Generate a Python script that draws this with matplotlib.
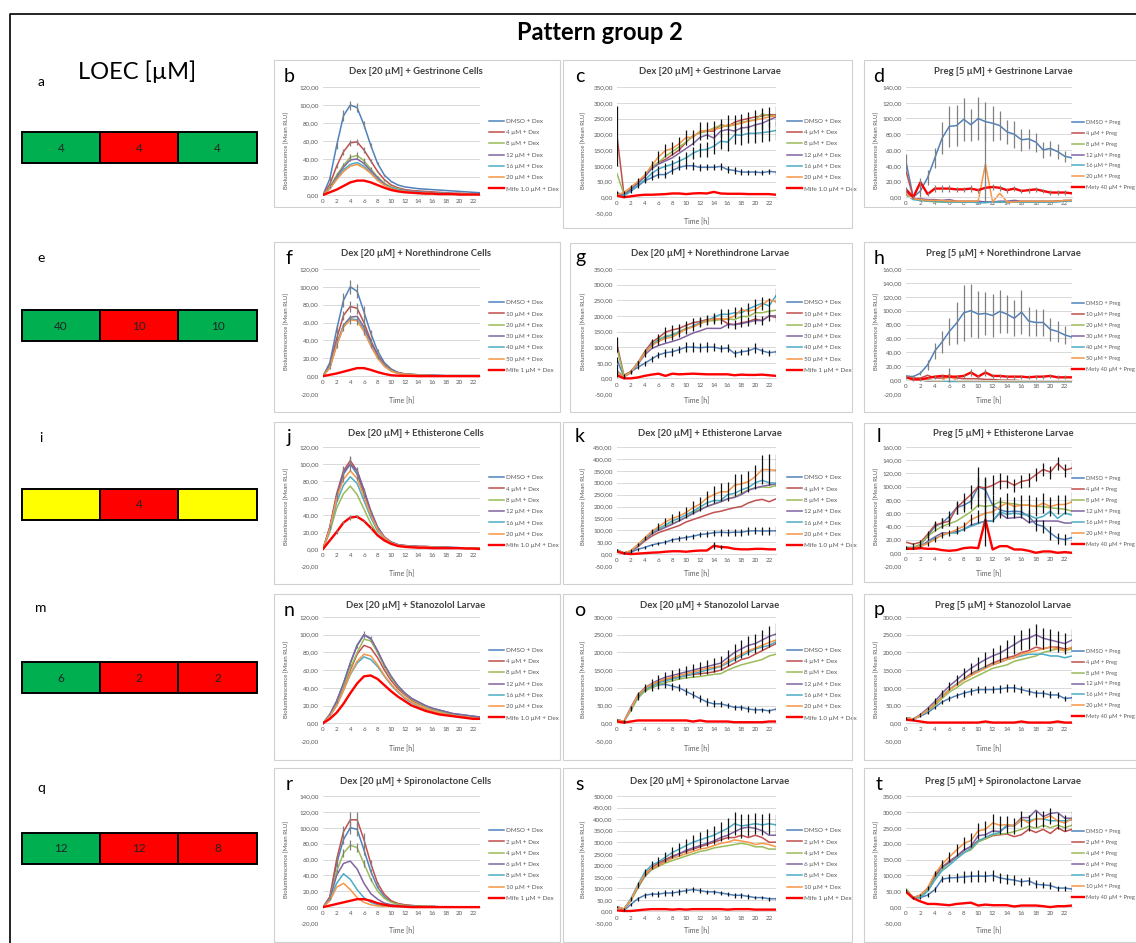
import matplotlib
matplotlib.use('Agg')
import matplotlib.pyplot as plt
from matplotlib.patches import Rectangle
import numpy as np

plt.rcParams['font.family'] = ['Lato', 'DejaVu Sans']

hours = list(range(24))

# ---------------- LOEC column
loec_a = ['4', '4', '4']
loec_e = ['40', '10', '10']
loec_i = ['', '4', '']
loec_m = ['6', '2', '2']
loec_q = ['12', '12', '8']
G, R, Y = '#00B050', '#FF0000', '#FFFF00'
loec_a_col = [G, R, G]
loec_e_col = [G, R, G]
loec_i_col = [Y, R, Y]
loec_m_col = [G, R, R]
loec_q_col = [G, R, R]

dex_4 = ['DMSO + Dex', '4 µM + Dex', '8 µM + Dex', '12 µM + Dex', '16 µM + Dex', '20 µM + Dex', 'Mife 1.0 µM + Dex']
preg_4 = ['DMSO + Preg', '4 µM + Preg', '8 µM + Preg', '12 µM + Preg', '16 µM + Preg', '20 µM + Preg', 'Mety 40 µM + Preg']
dex_10 = ['DMSO + Dex', '10 µM + Dex', '20 µM + Dex', '30 µM + Dex', '40 µM + Dex', '50 µM + Dex', 'Mife 1 µM + Dex']
preg_10 = ['DMSO + Preg', '10 µM + Preg', '20 µM + Preg', '30 µM + Preg', '40 µM + Preg', '50 µM + Preg', 'Mety 40 µM + Preg']
dex_2 = ['DMSO + Dex', '2 µM + Dex', '4 µM + Dex', '6 µM + Dex', '8 µM + Dex', '10 µM + Dex', 'Mife 1 µM + Dex']
preg_2 = ['DMSO + Preg', '2 µM + Preg', '4 µM + Preg', '6 µM + Preg', '8 µM + Preg', '10 µM + Preg', 'Mety 40 µM + Preg']

# ---------------- b
b_vals = [
    [0, 18, 55, 88, 100, 97, 78, 55, 35, 22, 15, 11, 9, 8, 7, 6.5, 6, 5.5, 5, 4.5, 4, 3.5, 3, 2.5],
    [0, 12, 32, 48, 58, 59, 50, 38, 26, 17, 11, 8, 6, 5, 4.5, 4, 3.5, 3, 2.5, 2, 2, 1.5, 1.5, 1],
    [0, 9, 22, 33, 42, 44, 38, 29, 20, 13, 9, 7, 5, 4, 3.5, 3, 2.5, 2, 2, 1.5, 1.5, 1, 1, 1],
    [0, 8, 20, 31, 39, 40, 35, 27, 19, 12, 8, 6, 5, 4, 3.5, 3, 2.5, 2, 2, 1.5, 1.5, 1, 1, 1],
    [0, 7, 18, 28, 34, 36, 32, 25, 17, 11, 8, 6, 4.5, 3.5, 3, 2.5, 2, 2, 1.5, 1.5, 1, 1, 1, 1],
    [0, 7, 17, 26, 32, 34, 30, 24, 16, 11, 7, 5, 4, 3, 2.5, 2, 2, 1.5, 1.5, 1, 1, 1, 0.5, 0.5],
    [0, 3, 6, 10, 14, 16, 16, 14, 11, 8, 5.5, 4, 3, 2.5, 2, 1.5, 1.5, 1, 1, 1, 0.5, 0.5, 0.5, 0.5],
]
b_errs = [[0, 2, 4, 6, 5, 5, 4, 3, 2, 1, 1] + [0] * 13,
          [0, 1, 2, 3, 3, 3, 3, 2, 1, 1] + [0] * 14,
          [0, 1, 2, 3, 4, 4, 3, 2, 1, 1] + [0] * 14, None, None, None, None]

# ---------------- c
c_vals = [
    [15, 5, 20, 35, 52, 62, 72, 72, 85, 95, 100, 100, 95, 95, 95, 98, 88, 85, 80, 80, 80, 78, 82, 80],
    [195, 10, 25, 45, 65, 95, 110, 120, 135, 150, 175, 195, 205, 210, 210, 230, 225, 238, 245, 250, 255, 258, 262, 262],
    [75, 10, 28, 48, 68, 95, 110, 130, 145, 160, 175, 195, 205, 210, 220, 228, 225, 230, 238, 242, 245, 265, 258, 260],
    [12, 8, 25, 45, 65, 90, 105, 115, 125, 140, 155, 170, 190, 198, 188, 210, 215, 210, 220, 222, 230, 235, 245, 255],
    [10, 5, 18, 38, 55, 75, 90, 98, 105, 115, 125, 140, 150, 152, 162, 178, 175, 198, 197, 203, 203, 205, 208, 212],
    [8, 15, 32, 50, 70, 100, 128, 148, 155, 170, 190, 190, 210, 212, 215, 220, 230, 230, 235, 242, 245, 250, 255, 258],
    [5, 0, 3, 6, 8, 8, 9, 10, 12, 12, 10, 12, 13, 12, 17, 12, 11, 11, 11, 10, 10, 10, 10, 8],
]
c_errs = [[5, 3, 5, 6, 8, 8, 10, 10, 10, 10, 10, 12, 12, 10, 10, 10, 10, 10, 10, 8, 8, 8, 8, 8],
          [95] + [0] * 23, None, None,
          [0, 0, 0, 0, 5, 8, 10, 12, 14, 16, 18, 20, 22, 24, 25, 26, 28, 28, 30, 30, 30, 30, 30, 30],
          [0, 5, 8, 10, 12, 15, 18, 20, 20, 22, 25, 25, 28, 28, 28, 30, 30, 30, 30, 30, 32, 32, 32, 32],
          None]

# ---------------- d
d_vals = [
    [45, 0, 8, 25, 50, 75, 90, 91, 99, 92, 100, 96, 94, 91, 83, 80, 73, 74, 70, 60, 62, 58, 52, 50],
    [33, 0, -3, -5, -5, -5, -6, -6, -6, -6, -6, -6, -6, -6, -6, -6, -6, -6, -6, -6, -6, -5, -5, -4],
    [5, -2, -4, -5, -6, -6, -6, -6, -6, -6, -6, -6, -6, -6, -6, -6, -6, -6, -6, -6, -6, -5, -5, -5],
    [8, -2, -2, -3, -3, -4, -3, -5, -5, -5, -5, -6, -6, -5, -5, -4, -5, -5, -5, -5, -5, -5, -4, -4],
    [3, -3, -4, -5, -5, -6, -6, -6, -6, -6, -7, -7, -6, -6, -6, -6, -6, -6, -6, -6, -6, -6, -5, -5],
    [4, -2, -3, -4, -4, -4, -5, -5, -5, -5, -5, 42, -6, 5, -6, -6, -5, -5, -5, -5, -5, -5, -4, -4],
    [10, 0, 19, 4, 11, 11, 11, 10, 10, 11, 9, 12, 13, 12, 9, 11, 8, 9, 10, 8, 6, 6, 6, 5],
]
d_errs = [[10, 2, 8, 10, 13, 20, 26, 26, 27, 20, 27, 25, 22, 18, 15, 17, 14, 13, 12, 10, 10, 10, 7, 9],
          None, None, None, None,
          [0] * 11 + [48] + [0] * 12,
          [3, 2, 6, 3, 4, 4, 4, 3, 3, 4, 3, 4, 4, 4, 3, 3, 3, 3, 3, 3, 3, 3, 3, 3]]

# ---------------- f
f_vals = [
    [0, 15, 52, 85, 100, 95, 72, 48, 28, 15, 8, 4, 2.5, 2, 1.5, 1, 1, 1, 0.5, 0.5, 0.5, 0.5, 0.5, 0.5],
    [0, 12, 42, 68, 78, 76, 60, 40, 24, 13, 7, 4, 2.5, 2, 1.5, 1, 1, 0.5, 0.5, 0.5, 0.5, 0.5, 0.5, 0.5],
    [0, 10, 35, 55, 64, 63, 52, 35, 21, 12, 6, 3.5, 2, 1.5, 1, 1, 0.5, 0.5, 0.5, 0.5, 0.5, 0.5, 0.5, 0.5],
    [0, 10, 36, 57, 66, 67, 55, 38, 22, 12, 6, 3.5, 2, 1.5, 1, 1, 0.5, 0.5, 0.5, 0.5, 0.5, 0.5, 0.5, 0.5],
    [0, 10, 35, 56, 64, 63, 52, 35, 21, 11, 6, 3, 2, 1.5, 1, 1, 0.5, 0.5, 0.5, 0.5, 0.5, 0.5, 0.5, 0.5],
    [0, 9, 34, 55, 63, 62, 50, 34, 20, 11, 5.5, 3, 2, 1.5, 1, 1, 0.5, 0.5, 0.5, 0.5, 0.5, 0.5, 0.5, 0.5],
    [0, 1.5, 3, 5, 7, 9, 9, 7, 4.5, 2.5, 1, 0.5, 0.3, 0.2, 0, 0, 0, 0, 0, 0, 0, 0, 0, 0],
]
f_errs = [[0, 2, 5, 8, 8, 8, 7, 4, 2, 1] + [0] * 14,
          [0, 1, 3, 5, 6, 6, 5, 3, 1] + [0] * 15, None, None, None,
          [0, 1, 3, 4, 5, 5, 4, 2, 1] + [0] * 15, None]

# ---------------- g
g_vals = [
    [60, 5, 22, 35, 48, 62, 75, 82, 85, 92, 100, 100, 98, 100, 100, 95, 97, 80, 85, 88, 97, 88, 82, 85],
    [108, 10, 22, 50, 85, 115, 130, 148, 155, 160, 170, 178, 182, 188, 190, 190, 175, 172, 178, 182, 190, 185, 200, 195],
    [95, 8, 20, 48, 82, 105, 125, 135, 140, 150, 160, 165, 175, 183, 185, 188, 190, 188, 198, 198, 210, 210, 215, 218],
    [20, 5, 18, 45, 75, 95, 105, 112, 118, 125, 135, 145, 152, 160, 160, 160, 172, 172, 175, 180, 185, 185, 200, 200],
    [25, 5, 20, 48, 80, 108, 122, 132, 138, 148, 158, 168, 178, 185, 195, 205, 205, 210, 210, 222, 232, 240, 232, 265],
    [22, 5, 20, 48, 80, 105, 118, 128, 132, 145, 158, 165, 175, 185, 190, 190, 190, 200, 220, 215, 220, 235, 252, 245],
    [10, 0, 0, 3, 8, 12, 15, 8, 15, 13, 14, 15, 14, 13, 13, 13, 13, 10, 12, 11, 11, 12, 10, 8],
]
g_errs = [[10, 3, 4, 5, 8, 10, 10, 12, 12, 12, 15, 15, 15, 15, 12, 12, 12, 10, 10, 12, 15, 10, 10, 10],
          [25, 3, 3, 5, 8, 10, 12, 15, 15, 15, 15, 15, 15, 15, 15, 15, 15, 15, 15, 15, 15, 15, 15, 15],
          None, None,
          [20, 3, 5, 8, 10, 12, 15, 15, 15, 15, 15, 15, 15, 15, 15, 18, 18, 18, 20, 20, 22, 22, 25, 25],
          None, None]

# ---------------- h
h_vals = [
    [6, 5, 10, 22, 42, 55, 70, 82, 97, 100, 95, 96, 93, 99, 95, 89, 98, 85, 83, 83, 73, 70, 65, 62],
    [5, 3, 3, 7, 3, 3, 4, 3, 2, 2, 2, 1, 1, 0, 0, 0, -1, -1, -1, -1, -1, -1, -1, -1],
    [5, 2, 0, -1, -1, -1, -1, -1, -1, -1, -1, -1, -2, -2, -2, -2, -2, -2, -2, -2, -2, -2, -2, -2],
    [5, 2, 0, -1, -1, -1, -1, -1, -1, -1, -1, -1, -1, -2, -2, -2, -2, -2, -2, -2, -2, -2, -2, -2],
    [5, 2, 1, 0, -1, -1, -2, -2, -2, -2, -2, -2, -2, -2, -2, -2, -2, -2, -2, -2, -2, -2, -2, -2],
    [5, 2, 1, 0, -1, -1, 8, -1, -1, -1, -1, -1, -1, -1, -1, -1, -1, -1, -1, -1, -1, -1, -1, -1],
    [4, 1, 1, 3, 5, 6, 5, 5, 6, 11, 5, 11, 6, 6, 5, 5, 5, 4, 5, 5, 6, 4, 4, 4],
]
h_errs = [[2, 2, 3, 7, 12, 16, 20, 30, 40, 38, 34, 31, 31, 31, 27, 26, 32, 21, 20, 19, 17, 15, 13, 12],
          None, None, None, None,
          [0] * 6 + [10] + [0] * 17,
          [2, 2, 2, 2, 3, 3, 3, 3, 3, 5, 3, 5, 3, 3, 3, 3, 3, 3, 3, 3, 3, 3, 3, 3]]

# ---------------- j
j_vals = [
    [0, 25, 62, 88, 100, 88, 65, 42, 24, 13, 8, 5, 4, 3.5, 3, 3, 2.5, 2.5, 2, 2, 1.5, 1.5, 1, 1],
    [0, 26, 65, 92, 104, 92, 68, 44, 25, 14, 8, 5, 4, 3.5, 3, 3, 2.5, 2, 2, 1.5, 1.5, 1, 0.5, 0],
    [0, 20, 48, 65, 74, 64, 47, 30, 17, 10, 6, 4, 3, 2.5, 2, 2, 2, 1.5, 1.5, 1, 1, 1, 1, 0.5],
    [0, 25, 62, 90, 100, 92, 70, 45, 26, 14, 8, 5, 4, 3.5, 3, 2.5, 2.5, 2, 2, 1.5, 1.5, 1, 1, 1],
    [0, 22, 55, 75, 85, 77, 57, 37, 21, 12, 7, 4.5, 3.5, 3, 2.5, 2.5, 2, 2, 1.5, 1.5, 1, 1, 1, 1],
    [0, 24, 60, 82, 92, 83, 62, 40, 23, 13, 7, 4.5, 3.5, 3, 2.5, 2.5, 2, 2, 1.5, 1.5, 1, 1, 1, 1],
    [0, 10, 20, 31, 37, 38, 33, 25, 16, 10, 6, 3.5, 2.5, 2, 1.5, 1.5, 1, 1, 1, 1, 1, 0.5, 0.5, 0],
]
j_errs = [[0, 2, 5, 9, 8, 7, 5, 3, 1] + [0] * 15,
          [0, 2, 4, 6, 6, 5, 4, 2, 1] + [0] * 15, None, None, None, None,
          [0, 1, 2, 2, 3, 2, 1, 1] + [0] * 16]

# ---------------- k
k_vals = [
    [18, 5, 8, 20, 28, 38, 45, 50, 60, 65, 70, 75, 82, 85, 90, 92, 90, 92, 92, 97, 98, 97, 97, 98],
    [15, 5, 10, 30, 55, 75, 90, 100, 110, 120, 135, 145, 155, 165, 175, 180, 188, 195, 200, 215, 225, 230, 220, 232],
    [15, 5, 12, 35, 60, 85, 102, 115, 130, 140, 155, 175, 188, 200, 210, 220, 232, 240, 255, 270, 278, 282, 280, 288],
    [15, 5, 12, 35, 60, 85, 100, 112, 125, 140, 155, 170, 185, 200, 210, 220, 232, 238, 250, 268, 278, 285, 290, 295],
    [15, 5, 12, 38, 65, 92, 108, 122, 140, 150, 165, 180, 198, 215, 225, 225, 250, 255, 270, 280, 300, 310, 300, 298],
    [15, 5, 15, 40, 68, 95, 115, 135, 150, 160, 175, 195, 210, 235, 250, 262, 262, 290, 295, 305, 325, 355, 355, 352],
    [10, 3, 0, 2, 4, 6, 7, 10, 12, 12, 10, 13, 15, 15, 35, 30, 28, 22, 20, 20, 22, 22, 20, 20],
]
k_errs = [[5, 2, 3, 5, 5, 6, 6, 8, 8, 10, 10, 10, 12, 12, 12, 15, 15, 15, 15, 15, 15, 18, 18, 20],
          None, None, None, None,
          [0, 3, 5, 8, 10, 12, 15, 18, 20, 22, 25, 28, 30, 32, 35, 38, 40, 45, 40, 45, 50, 60, 65, 70],
          [0] * 14 + [15, 8] + [0] * 8]

# ---------------- l
l_vals = [
    [8, 8, 12, 25, 40, 45, 55, 68, 72, 78, 100, 95, 72, 65, 62, 63, 62, 55, 43, 40, 30, 22, 20, 23],
    [16, 13, 16, 28, 42, 45, 48, 68, 78, 88, 100, 98, 102, 108, 108, 102, 108, 110, 118, 126, 122, 135, 125, 128],
    [8, 8, 13, 25, 33, 40, 44, 48, 55, 62, 72, 70, 72, 77, 75, 74, 72, 72, 70, 70, 68, 67, 66, 63],
    [7, 7, 10, 17, 24, 30, 30, 32, 35, 42, 45, 48, 48, 60, 52, 53, 54, 46, 48, 48, 48, 48, 45, 45],
    [6, 7, 9, 15, 22, 26, 30, 30, 36, 40, 44, 48, 48, 62, 58, 60, 58, 57, 52, 55, 63, 52, 60, 57],
    [7, 7, 10, 14, 20, 27, 30, 35, 40, 50, 55, 60, 62, 70, 75, 70, 72, 72, 70, 75, 70, 73, 73, 77],
    [6, 6, 7, 6, 6, 4, 3, 4, 7, 8, 7, 50, 5, 10, 10, 5, 5, 3, 0, 2, 2, 0, 1, 0],
]
l_errs = [[2, 2, 3, 5, 7, 8, 8, 9, 10, 12, 30, 20, 15, 12, 10, 10, 10, 10, 10, 10, 10, 8, 8, 8],
          [0, 2, 3, 5, 6, 7, 8, 10, 12, 14, 15, 15, 15, 12, 10, 10, 10, 10, 10, 10, 10, 10, 10, 10],
          None, None, None,
          [1, 1, 2, 3, 4, 5, 5, 6, 7, 8, 10, 12, 15, 15, 15, 15, 15, 15, 15, 15, 15, 15, 15, 15],
          [0] * 11 + [40] + [0] * 12]

# ---------------- n
n_vals = [
    [0, 10, 25, 45, 68, 88, 100, 95, 80, 65, 52, 42, 34, 28, 24, 20, 17, 15, 13, 11, 10, 9, 8, 7],
    [0, 9, 22, 40, 60, 78, 88, 85, 74, 60, 48, 39, 32, 26, 22, 19, 16, 14, 12, 10, 9, 8, 7, 6],
    [0, 10, 24, 42, 62, 80, 95, 93, 80, 64, 51, 41, 33, 27, 23, 19, 16, 14, 12, 10, 9, 8, 7, 6],
    [0, 10, 25, 45, 68, 88, 100, 96, 82, 66, 53, 42, 34, 28, 24, 20, 17, 15, 13, 11, 10, 9, 8, 7],
    [0, 8, 20, 37, 55, 68, 75, 72, 64, 53, 43, 35, 28, 23, 19, 16, 14, 12, 10, 9, 8, 7, 6, 5],
    [0, 8, 20, 37, 56, 70, 78, 76, 66, 54, 44, 36, 29, 24, 20, 17, 14, 12, 10, 9, 8, 7, 6, 5],
    [0, 5, 12, 22, 34, 45, 53, 54, 50, 43, 36, 30, 25, 20, 17, 14, 12, 10, 9, 8, 7, 6, 5, 5],
]
n_errs = [[0, 1, 2, 2, 3, 3, 4, 3, 2, 2, 1, 1] + [0] * 12, None, None, None, None, None, None]

# ---------------- o
o_vals = [
    [10, 5, 40, 75, 95, 100, 108, 110, 105, 100, 90, 80, 70, 60, 55, 55, 50, 45, 45, 40, 38, 38, 35, 40],
    [10, 5, 40, 75, 95, 105, 115, 122, 128, 130, 135, 138, 140, 142, 145, 150, 160, 170, 180, 185, 195, 205, 215, 225],
    [10, 5, 35, 70, 90, 100, 110, 115, 120, 125, 128, 130, 132, 135, 138, 140, 150, 158, 165, 170, 175, 180, 190, 195],
    [10, 5, 45, 80, 100, 112, 122, 130, 135, 140, 145, 150, 155, 160, 165, 170, 185, 200, 210, 220, 225, 235, 245, 252],
    [10, 5, 40, 75, 95, 105, 115, 120, 125, 130, 135, 140, 145, 150, 155, 160, 170, 180, 190, 200, 210, 215, 220, 230],
    [10, 5, 42, 78, 98, 110, 118, 125, 130, 135, 140, 145, 150, 155, 158, 162, 175, 185, 195, 205, 212, 220, 228, 235],
    [5, 2, 5, 8, 8, 8, 8, 8, 8, 8, 8, 5, 8, 5, 5, 5, 5, 3, 3, 3, 3, 3, 5, 5],
]
o_errs = [[2, 2, 5, 8, 8, 10, 10, 10, 10, 10, 10, 10, 10, 10, 10, 8, 8, 8, 8, 8, 8, 6, 6, 6],
          None, None,
          [0, 3, 5, 8, 10, 12, 14, 15, 15, 16, 16, 18, 18, 20, 20, 20, 22, 24, 25, 26, 28, 28, 30, 30],
          None, None, None]

# ---------------- p
p_vals = [
    [15, 12, 20, 30, 45, 60, 70, 78, 85, 90, 95, 95, 95, 97, 100, 100, 95, 90, 85, 85, 80, 80, 70, 72],
    [15, 12, 22, 38, 55, 75, 95, 110, 125, 140, 150, 160, 170, 178, 185, 190, 200, 205, 215, 210, 215, 215, 210, 212],
    [15, 12, 22, 35, 50, 70, 88, 100, 115, 125, 135, 145, 155, 160, 165, 175, 180, 185, 190, 200, 205, 210, 205, 210],
    [15, 12, 25, 42, 62, 85, 105, 122, 140, 155, 168, 180, 190, 198, 210, 222, 235, 240, 250, 240, 235, 230, 225, 235],
    [15, 12, 22, 38, 55, 78, 95, 110, 125, 135, 148, 158, 165, 172, 180, 185, 190, 195, 195, 195, 190, 190, 185, 190],
    [15, 12, 22, 38, 55, 75, 95, 108, 122, 135, 145, 155, 165, 172, 180, 185, 195, 200, 205, 210, 215, 210, 205, 215],
    [10, 8, 5, 2, 2, 2, 2, 2, 2, 2, 2, 5, 2, 2, 2, 2, 5, 2, 2, 2, 2, 5, 2, 2],
]
p_errs = [[2, 2, 3, 4, 5, 6, 8, 8, 10, 10, 10, 10, 10, 12, 12, 12, 10, 10, 10, 10, 10, 8, 8, 8],
          None, None,
          [0, 2, 3, 5, 8, 10, 12, 14, 15, 16, 18, 20, 22, 24, 25, 26, 28, 30, 30, 30, 30, 30, 30, 30],
          None, None, None]

# ---------------- r
r_vals = [
    [0, 12, 55, 85, 100, 98, 72, 45, 25, 13, 7, 4, 2.5, 2, 1.5, 1, 1, 0.5, 0.5, 0.5, 0, 0, 0, 0],
    [0, 13, 60, 95, 110, 110, 85, 55, 30, 16, 8, 4.5, 3, 2, 1.5, 1, 1, 0.5, 0.5, 0.5, 0, 0, 0, 0],
    [0, 10, 45, 68, 78, 75, 55, 35, 20, 11, 6, 3.5, 2, 1.5, 1, 1, 0.5, 0.5, 0, 0, 0, 0, 0, 0],
    [0, 10, 40, 55, 58, 48, 30, 17, 10, 5, 3, 2, 1, 1, 0.5, 0.5, 0, 0, 0, 0, 0, 0, 0, 0],
    [0, 9, 30, 42, 35, 22, 12, 6, 3, 1.5, 1, 0.5, 0, 0, 0, 0, 0, 0, 0, 0, 0, 0, 0, 0],
    [0, 8, 25, 30, 22, 12, 6, 3, 1.5, 1, 0.5, 0, 0, 0, 0, 0, 0, 0, 0, 0, 0, 0, 0, 0],
    [0, 2, 4, 6, 8, 10, 10, 8, 5, 3, 1.5, 1, 0.5, 0, 0, 0, 0, 0, 0, 0, 0, 0, 0, 0],
]
r_errs = [[0, 1, 4, 6, 8, 8, 6, 3, 1] + [0] * 15,
          [0, 1, 4, 7, 10, 10, 8, 5, 2] + [0] * 15,
          [0, 1, 3, 5, 6, 6, 4, 2] + [0] * 16, None, None, None, None]

# ---------------- s
s_vals = [
    [20, 5, 30, 55, 70, 75, 75, 80, 80, 85, 90, 95, 90, 85, 85, 80, 75, 70, 70, 65, 60, 60, 55, 55],
    [20, 10, 50, 110, 160, 190, 210, 225, 240, 250, 260, 270, 280, 290, 300, 310, 320, 320, 330, 320, 330, 320, 300, 300],
    [20, 10, 45, 100, 150, 180, 195, 210, 220, 230, 240, 250, 260, 265, 275, 280, 285, 290, 295, 290, 280, 280, 270, 270],
    [20, 10, 50, 105, 155, 185, 200, 220, 235, 250, 265, 275, 285, 295, 305, 320, 330, 345, 360, 365, 360, 350, 330, 330],
    [20, 10, 55, 115, 170, 200, 215, 235, 255, 270, 285, 300, 310, 320, 330, 345, 360, 380, 370, 375, 380, 375, 380, 375],
    [20, 10, 50, 108, 160, 185, 200, 215, 230, 240, 250, 260, 270, 275, 285, 295, 300, 310, 305, 300, 290, 295, 290, 280],
    [5, 2, 2, 5, 8, 10, 10, 10, 8, 10, 8, 10, 10, 10, 10, 10, 8, 10, 10, 10, 8, 8, 8, 8],
]
s_errs = [[5, 2, 5, 8, 10, 10, 12, 12, 12, 12, 12, 12, 12, 10, 10, 10, 10, 10, 10, 10, 8, 8, 8, 8],
          None, None, None,
          [0, 3, 8, 12, 15, 18, 20, 22, 25, 28, 30, 32, 35, 38, 40, 42, 45, 50, 50, 48, 45, 45, 45, 45],
          None, None]

# ---------------- t
t_vals = [
    [55, 30, 30, 38, 55, 88, 92, 93, 95, 97, 98, 97, 100, 92, 88, 85, 80, 83, 72, 70, 68, 60, 60, 57],
    [50, 30, 35, 55, 95, 125, 145, 160, 180, 190, 210, 215, 225, 228, 230, 222, 228, 245, 235, 245, 232, 250, 238, 245],
    [58, 30, 35, 55, 90, 120, 140, 158, 172, 180, 205, 215, 228, 230, 232, 238, 245, 255, 248, 258, 250, 258, 250, 258],
    [52, 30, 38, 60, 98, 128, 140, 160, 178, 192, 225, 228, 240, 238, 255, 258, 282, 282, 305, 285, 295, 298, 280, 280],
    [52, 28, 30, 50, 85, 115, 132, 152, 170, 185, 208, 220, 230, 235, 260, 255, 275, 272, 278, 278, 272, 272, 272, 275],
    [50, 30, 38, 60, 105, 135, 158, 180, 200, 210, 240, 245, 265, 258, 260, 256, 278, 265, 278, 278, 288, 272, 265, 278],
    [48, 28, 18, 10, 10, 8, 6, 10, 12, 14, 5, 8, 6, 6, 6, 2, 5, 5, 5, 3, 0, 3, 3, 5],
]
t_errs = [[3, 3, 3, 5, 8, 10, 12, 15, 18, 18, 18, 18, 18, 15, 15, 15, 12, 12, 12, 10, 10, 8, 8, 8],
          None, None, None, None,
          [2, 2, 3, 5, 8, 12, 15, 18, 20, 22, 25, 25, 28, 28, 28, 25, 25, 25, 25, 25, 25, 25, 25, 25],
          None]

series_colors = ['#4F81BD', '#C0504D', '#9BBB59', '#8064A2', '#4BACC6', '#F79646', '#FF0000']
GRAY = '#595959'

W, H = 1136, 943
fig = plt.figure(figsize=(W / 100, H / 100), dpi=100)

bg = fig.add_axes([0, 0, 1, 1], zorder=-1)
bg.set_xlim(0, W); bg.set_ylim(H, 0); bg.axis('off')
ov = fig.add_axes([0, 0, 1, 1], zorder=5)
ov.set_xlim(0, W); ov.set_ylim(H, 0); ov.axis('off'); ov.patch.set_alpha(0)

# outer frame and heading
bg.plot([10, 10, W], [H, 14, 14], color='black', lw=1.2)
bg.text(600, 33, 'Pattern group 2', fontsize=17, fontweight='bold', ha='center', va='center')
bg.text(137, 72, 'LOEC [µM]', fontsize=17, ha='center', va='center')

for letter, yl, ytop, vals, cols in [('a', 82, 132, loec_a, loec_a_col),
                                     ('e', 258, 310, loec_e, loec_e_col),
                                     ('i', 438, 489, loec_i, loec_i_col),
                                     ('m', 608, 662, loec_m, loec_m_col),
                                     ('q', 788, 833, loec_q, loec_q_col)]:
    bg.text(41, yl, letter, fontsize=10, ha='center', va='center')
    edges = [22, 100, 178, 257]
    for k in range(3):
        bg.add_patch(Rectangle((edges[k], ytop), edges[k + 1] - edges[k], 31,
                               fc=cols[k], ec='black', lw=1.4))
        bg.text((edges[k] + edges[k + 1]) / 2, ytop + 16, vals[k], fontsize=8.5,
                ha='center', va='center', color='#222222')

COLS = {1: dict(px0=323, px1=480, lx=489, ylx=287, letx=289, tx=416, lfs=4.5, hl=2.4),
        2: dict(px0=617, px1=776, lx=787, ylx=584, letx=580, tx=710, lfs=4.5, hl=2.4),
        3: dict(px0=906, px1=1072, lx=1072, ylx=877, letx=879, tx=1003, lfs=4.1, hl=2.1)}
ROWS = {1: dict(top=87, bot=213, ty=72, time=222),
        2: dict(top=269, bot=394, ty=254, time=401),
        3: dict(top=447, bot=566, ty=433, time=574),
        4: dict(top=617, bot=741, ty=606, time=749),
        5: dict(top=796, bot=923, ty=781, time=931)}


def panel(col, row, box, letter, title, labels, vals, errs, ylo, yhi, ystep, ecol):
    c = COLS[col]
    r = ROWS[row]
    x0, y0, x1, y1 = box
    ov.add_patch(Rectangle((x0, y0), x1 - x0, y1 - y0, fill=False, ec='#D0D0D0', lw=0.8))
    ax = fig.add_axes([c['px0'] / W, 1 - r['bot'] / H,
                       (c['px1'] - c['px0']) / W, (r['bot'] - r['top']) / H])
    ax.patch.set_alpha(0)
    for i in range(len(vals)):
        ax.plot(hours, vals[i], color=series_colors[i], lw=1.7 if i == 6 else 1.1,
                label=labels[i], zorder=2 + 0.1 * i, solid_joinstyle='round')
    for i in range(len(vals)):
        if errs[i] is not None:
            ax.errorbar(hours, vals[i], yerr=errs[i], fmt='none', ecolor=ecol,
                        elinewidth=0.9, capsize=0, zorder=3)
    ax.set_xlim(0, 23)
    ax.set_ylim(ylo, yhi)
    yt = np.arange(ylo, yhi + ystep / 2, ystep)
    ax.set_yticks(yt)
    ax.set_yticklabels([('%.2f' % v).replace('.', ',') for v in yt])
    ax.set_xticks(range(0, 23, 2))
    ax.grid(axis='y', color='#D9D9D9', lw=0.7)
    ax.set_axisbelow(True)
    for s in ['top', 'right', 'left']:
        ax.spines[s].set_visible(False)
    ax.spines['bottom'].set_position(('data', 0))
    ax.spines['bottom'].set_color('#D9D9D9')
    ax.spines['bottom'].set_linewidth(0.7)
    ax.tick_params(length=0, labelsize=4.5, labelcolor=GRAY, pad=3)
    ax.legend(loc='center left',
              bbox_to_anchor=(c['lx'] / W, 1 - ((r['top'] + r['bot']) / 2 + 5) / H),
              bbox_transform=fig.transFigure, frameon=False, fontsize=c['lfs'],
              handlelength=c['hl'], handletextpad=0.35,
              labelspacing=0.95 * 4.5 / c['lfs'],
              borderpad=0, borderaxespad=0, labelcolor=GRAY)
    bg.text(c['tx'], r['ty'], title, fontsize=6.8, fontweight='bold', color='#404040',
            ha='center', va='center')
    bg.text(c['letx'], r['ty'] + 4, letter, fontsize=14, ha='center', va='center')
    bg.text(c['ylx'], (r['top'] + r['bot']) / 2, 'Bioluminescence [Mean RLU]', rotation=90,
            fontsize=4.3, color=GRAY, ha='center', va='center')
    bg.text((c['px0'] + c['px1']) / 2, r['time'], 'Time [h]', fontsize=5, color=GRAY,
            ha='center', va='center')


CELL_E = '#808080'
LARV_E = '#111111'

panel(1, 1, (274, 60, 560, 207), 'b', 'Dex [20 µM] + Gestrinone Cells', dex_4, b_vals, b_errs, -20, 120, 20, CELL_E)
panel(2, 1, (563, 60, 852, 228), 'c', 'Dex [20 µM] + Gestrinone Larvae', dex_4, c_vals, c_errs, -50, 350, 50, LARV_E)
panel(3, 1, (864, 60, 1140, 207), 'd', 'Preg [5 µM] + Gestrinone Larvae', preg_4, d_vals, d_errs, -20, 140, 20, CELL_E)

panel(1, 2, (274, 242, 560, 412), 'f', 'Dex [20 µM] + Norethindrone Cells', dex_10, f_vals, f_errs, -20, 120, 20, CELL_E)
panel(2, 2, (570, 243, 852, 412), 'g', 'Dex [20 µM] + Norethindrone Larvae', dex_10, g_vals, g_errs, -50, 350, 50, LARV_E)
panel(3, 2, (864, 242, 1140, 412), 'h', 'Preg [5 µM] + Norethindrone Larvae', preg_10, h_vals, h_errs, -20, 160, 20, CELL_E)

panel(1, 3, (274, 422, 560, 584), 'j', 'Dex [20 µM] + Ethisterone Cells', dex_4, j_vals, j_errs, -20, 120, 20, CELL_E)
panel(2, 3, (563, 422, 852, 584), 'k', 'Dex [20 µM] + Ethisterone Larvae', dex_4, k_vals, k_errs, -50, 450, 50, LARV_E)
panel(3, 3, (864, 423, 1140, 582), 'l', 'Preg [5 µM] + Ethisterone Larvae', preg_4, l_vals, l_errs, -20, 160, 20, LARV_E)

panel(1, 4, (274, 594, 560, 760), 'n', 'Dex [20 µM] + Stanozolol Larvae', dex_4, n_vals, n_errs, -20, 120, 20, CELL_E)
panel(2, 4, (563, 594, 852, 760), 'o', 'Dex [20 µM] + Stanozolol Larvae', dex_4, o_vals, o_errs, -50, 300, 50, LARV_E)
panel(3, 4, (864, 594, 1140, 760), 'p', 'Preg [5 µM] + Stanozolol Larvae', preg_4, p_vals, p_errs, -50, 300, 50, LARV_E)

panel(1, 5, (274, 768, 560, 942), 'r', 'Dex [20 µM] + Spironolactone Cells', dex_2, r_vals, r_errs, -20, 140, 20, CELL_E)
panel(2, 5, (563, 768, 852, 942), 's', 'Dex [20 µM] + Spironolactone Larvae', dex_2, s_vals, s_errs, -50, 500, 50, LARV_E)
panel(3, 5, (864, 768, 1140, 942), 't', 'Preg [5 µM] + Spironolactone Larvae', preg_2, t_vals, t_errs, -50, 350, 50, LARV_E)

# row 1 panels b and d are cropped at the bottom
ov.add_patch(Rectangle((268, 207.6), 294, 30, fc='white', ec='none'))
ov.add_patch(Rectangle((858, 207.6), 290, 30, fc='white', ec='none'))
ov.add_patch(Rectangle((560, 228.6), 300, 12, fc='white', ec='none'))

fig.savefig('out.png', dpi=100)
